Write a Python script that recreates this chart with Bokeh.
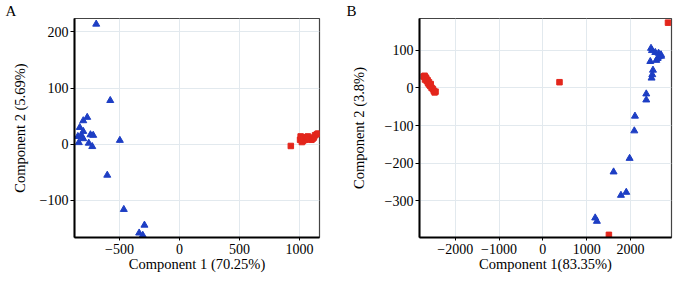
from bokeh.plotting import figure
from bokeh.layouts import row
from bokeh.models import Range1d, FixedTicker, Title
from bokeh.embed import file_html
from bokeh.resources import INLINE

# ---------------- data ----------------
# Panel A
a_blue_x = [-694, -577, -769, -802, -831, -802, -847, -819, -742, -719, -839, -802,
            -756, -727, -497, -602, -464, -292, -336, -306]
a_blue_y = [214, 78, 48, 42, 30, 23, 14, 16, 17, 16, 3, 10,
            2, -4, 7, -55, -116, -144, -158, -162]
a_red_x = [928, 1005, 1010, 1020, 1025, 1030, 1040, 1050, 1060, 1070, 1090,
           1100, 1110, 1120, 1130, 1145, 1155]
a_red_y = [-3, 8, 14, 4, 12, 6, 11, 8, 12, 14, 9, 8, 10, 12, 16, 18, 19]
a_xticks = [-500, 0, 500, 1000]
a_yticks = [-100, 0, 100, 200]

# Panel B
b_blue_x = [2469, 2491, 2567, 2642, 2697, 2642, 2590, 2453, 2514, 2498, 2482, 2660,
            2620, 2700, 2361, 2361, 2103, 2088, 1981, 1615, 1904, 1783, 1195, 1234]
b_blue_y = [105, 99, 94, 92, 88, 82, 73, 70, 47, 35, 26, 85,
            78, 84, -16, -32, -75, -114, -187, -223, -277, -285, -345, -354]
b_red_x = [-2720, -2700, -2680, -2690, -2660, -2650, -2630, -2620, -2600, -2590,
           -2570, -2560, -2540, -2510, -2490, -2470, -2450, 380, 2857, 1508]
b_red_y = [30, 32, 28, 22, 25, 18, 20, 12, 15, 8, 5, 10, 0, -3, -8, -12, -10,
           15, 173, -390]
b_xticks = [-2000, -1000, 0, 1000, 2000]
b_yticks = [-300, -200, -100, 0, 100]

BLUE = "#1d3ec4"
RED = "#e3261c"
FONT = "Liberation Serif"
GRID = "#e2e9ee"


def style(p, xticks, yticks, xlabel, ylabel):
    p.xaxis.ticker = FixedTicker(ticks=xticks)
    p.yaxis.ticker = FixedTicker(ticks=yticks)
    p.xaxis.axis_label = xlabel
    p.yaxis.axis_label = ylabel
    for ax in (p.xaxis[0], p.yaxis[0]):
        ax.axis_label_text_font = FONT
        ax.axis_label_text_font_style = "normal"
        ax.axis_label_text_font_size = "14.5px"
        ax.axis_label_text_color = "black"
        ax.major_label_text_font = FONT
        ax.major_label_text_font_size = "14px"
        ax.major_label_text_color = "black"
        ax.axis_line_color = "black"
        ax.axis_line_width = 2
        ax.major_tick_line_color = "black"
        ax.major_tick_in = 0
        ax.minor_tick_line_color = None
    p.xaxis.major_tick_out = 3
    p.yaxis.major_tick_out = 4
    p.xaxis.major_label_standoff = 3
    p.xaxis.axis_label_standoff = -1
    p.yaxis.major_label_standoff = 2
    p.yaxis.major_label_orientation = "horizontal"
    p.xgrid.grid_line_color = GRID
    p.ygrid.grid_line_color = GRID
    p.outline_line_color = "#444444"
    p.outline_line_width = 1.2
    p.background_fill_color = "white"
    p.border_fill_color = "white"


def panel_letter(p, text, offset):
    p.add_layout(Title(text=text, align="left", offset=offset, standoff=0,
                       text_font=FONT, text_font_size="15px",
                       text_font_style="normal", text_color="black",
                       text_line_height=1.0), "above")


pA = figure(width=345, height=281, output_backend="svg", toolbar_location=None,
            x_range=Range1d(-875, 1167), y_range=Range1d(-166, 224),
            min_border_left=74, min_border_right=26, min_border_top=15,
            min_border_bottom=42)
style(pA, a_xticks, a_yticks, "Component 1 (70.25%)", "Component 2 (5.69%)")
pA.yaxis.axis_label_standoff = 9
pA.scatter(a_blue_x, a_blue_y, marker="triangle", size=7, color=BLUE)
pA.scatter(a_red_x, a_red_y, marker="square", size=5.5, color=RED)
panel_letter(pA, "A", -69)

pB = figure(width=355, height=281, output_backend="svg", toolbar_location=None,
            x_range=Range1d(-2816, 2937), y_range=Range1d(-397, 184),
            min_border_left=74, min_border_right=29, min_border_top=17,
            min_border_bottom=44)
style(pB, b_xticks, b_yticks, "Component 1(83.35%)", "Component 2 (3.8%)")
pB.yaxis.axis_label_standoff = 15
pB.scatter(b_blue_x, b_blue_y, marker="triangle", size=7, color=BLUE)
pB.scatter(b_red_x, b_red_y, marker="square", size=5.5, color=RED)
panel_letter(pB, "B", -73)

layout = row(pA, pB)
open("out.html", "w").write(file_html(layout, INLINE))
